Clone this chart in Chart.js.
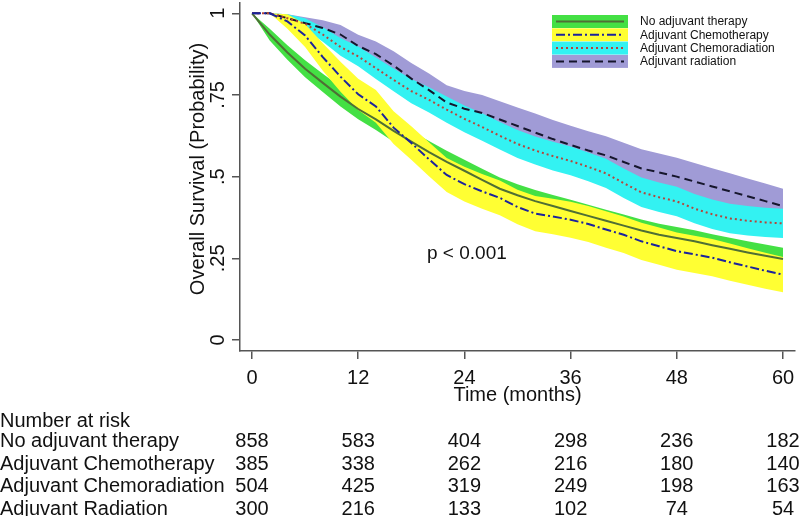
<!DOCTYPE html>
<html>
<head>
<meta charset="utf-8">
<title>Overall Survival</title>
<script src="https://cdn.jsdelivr.net/npm/chart.js@4/dist/chart.umd.min.js"></script>
<style>
    html, body { margin: 0; padding: 0; background: #fff; }
    #survivalChart { display: block; }
</style>
</head>
<body>
<canvas id="survivalChart" width="800" height="516"></canvas>
<script>
// ===============================
// Data
// ===============================

let months = [0, 2, 4, 6, 8, 10, 12, 14, 16, 18, 20, 22, 24, 26, 28, 30,
    32, 34, 36, 38, 40, 42, 44, 46, 48, 50, 52, 54, 56, 58, 60];

let noAdjuvant = [1.0, .935, .88, .83, .787, .745, .707, .675, .64, .607, .575, .545, .518, .49, .463, .443,
    .425, .41, .395, .38, .365, .35, .335, .322, .312, .302, .29, .279, .268, .258, .248];
let noAdjuvantHi = [1.0, .953, .902, .856, .815, .775, .738, .707, .673, .64, .609, .579, .552, .524, .497, .477,
    .459, .444, .429, .414, .399, .384, .369, .356, .346, .336, .324, .313, .302, .292, .282];
let noAdjuvantLo = [1.0, .917, .858, .804, .759, .715, .676, .643, .607, .574, .541, .511, .484, .456, .429, .409,
    .391, .376, .361, .346, .331, .316, .301, .288, .278, .268, .256, .245, .234, .224, .214];

let chemo = [1.0, 1.0, .975, .932, .866, .806, .752, .715, .65, .603, .553, .505, .477, .455, .435, .407,
    .387, .378, .368, .355, .338, .322, .302, .287, .272, .262, .252, .238, .225, .212, .2];
let chemoHi = [1.0, 1.0, .997, .967, .908, .852, .8, .765, .7, .654, .605, .557, .53, .508, .488, .46,
    .441, .432, .423, .41, .394, .378, .359, .344, .329, .319, .309, .295, .281, .267, .254];
let chemoLo = [1.0, 1.0, .953, .897, .824, .76, .704, .665, .6, .552, .501, .453, .424, .402, .382, .354,
    .333, .324, .313, .3, .282, .266, .245, .23, .215, .205, .195, .181, .169, .157, .146];

let chemorad = [1.0, 1.0, .985, .968, .935, .897, .868, .832, .796, .762, .735, .705, .677, .652, .625, .6,
    .58, .563, .548, .53, .51, .48, .452, .437, .424, .402, .385, .372, .365, .36, .357];
let chemoradHi = [1.0, 1.0, .997, .985, .957, .924, .898, .865, .831, .799, .774, .745, .718, .694, .667, .643,
    .623, .607, .592, .574, .555, .525, .497, .482, .469, .447, .43, .417, .41, .405, .402];
let chemoradLo = [1.0, 1.0, .973, .951, .913, .87, .838, .799, .761, .725, .696, .665, .636, .61, .583, .557,
    .537, .519, .504, .486, .465, .435, .407, .392, .379, .357, .34, .327, .32, .315, .312];

let radiation = [1.0, 1.0, .985, .97, .955, .935, .9, .875, .84, .8, .765, .727, .708, .695, .675, .655,
    .635, .615, .597, .58, .565, .545, .525, .513, .5, .485, .47, .455, .44, .425, .41];
let radiationHi = [1.0, 1.0, .997, .988, .979, .964, .934, .914, .884, .848, .816, .78, .762, .75, .731, .712,
    .693, .673, .656, .639, .624, .604, .584, .571, .558, .542, .526, .51, .494, .479, .463];
let radiationLo = [1.0, 1.0, .973, .952, .931, .906, .866, .836, .796, .752, .714, .674, .654, .64, .619, .598,
    .577, .557, .538, .521, .506, .486, .466, .455, .442, .428, .414, .4, .386, .371, .357];

let groupNames = ["No adjuvant therapy", "Adjuvant Chemotherapy", "Adjuvant Chemoradiation", "Adjuvant radiation"];
let riskNames = ["No adjuvant therapy", "Adjuvant Chemotherapy", "Adjuvant Chemoradiation", "Adjuvant Radiation"];

let riskTimes = [0, 12, 24, 36, 48, 60];
let riskNoAdjuvant = [858, 583, 404, 298, 236, 182];
let riskChemo = [385, 338, 262, 216, 180, 140];
let riskChemorad = [504, 425, 319, 249, 198, 163];
let riskRadiation = [300, 216, 133, 102, 74, 54];

let xTicks = [0, 12, 24, 36, 48, 60];
let yTicks = [0, 0.25, 0.5, 0.75, 1];
let yTickLabels = ["0", ".25", ".5", ".75", "1"];

// ===============================
// Styles
// ===============================

let FONT = "'Liberation Sans', Arial, sans-serif";
let TEXT = "#111";
let AXIS = "#555";

let bandColors = ["#44e044", "#ffff33", "#33f2f2", "#a09bd6"];
let lineColors = ["#4f6f35", "#1c239c", "#b5463c", "#16162c"];
let lineDashes = [[], [9, 3, 2, 3], [2, 3], [8, 5]];

function points(values) {
    return months.map((m, i) => ({ x: m, y: values[i] }));
}

function lineSet(values, k) {
    return {
        data: points(values),
        borderColor: lineColors[k],
        borderWidth: 2,
        borderDash: lineDashes[k],
        pointRadius: 0,
        fill: false,
        tension: 0
    };
}

function bandTop(values, k) {
    return {
        data: points(values),
        borderWidth: 0,
        pointRadius: 0,
        backgroundColor: bandColors[k],
        fill: "+1"
    };
}

function bandBottom(values) {
    return {
        data: points(values),
        borderWidth: 0,
        pointRadius: 0,
        fill: false
    };
}

// first dataset ends up on top
let datasets = [
    lineSet(chemo, 1),
    lineSet(noAdjuvant, 0),
    lineSet(chemorad, 2),
    lineSet(radiation, 3),
    bandTop(chemoHi, 1), bandBottom(chemoLo),
    bandTop(noAdjuvantHi, 0), bandBottom(noAdjuvantLo),
    bandTop(chemoradHi, 2), bandBottom(chemoradLo),
    bandTop(radiationHi, 3), bandBottom(radiationLo)
];

// ===============================
// Text, legend and risk table
// ===============================

let textPlugin = {
    id: "kmText",
    afterDraw(chart) {
        let ctx = chart.ctx;
        let xs = chart.scales.x;
        let ys = chart.scales.y;

        ctx.save();
        ctx.fillStyle = TEXT;
        ctx.font = "20px " + FONT;
        ctx.textBaseline = "alphabetic";

        // y tick labels, turned
        ctx.textAlign = "center";
        yTicks.forEach((v, i) => {
            ctx.save();
            ctx.translate(223.5, ys.getPixelForValue(v));
            ctx.rotate(-Math.PI / 2);
            ctx.fillText(yTickLabels[i], 0, 0);
            ctx.restore();
        });

        // y title
        ctx.save();
        ctx.translate(204, 169);
        ctx.rotate(-Math.PI / 2);
        ctx.fillText("Overall Survival (Probability)", 0, 0);
        ctx.restore();

        // x tick labels and title
        xTicks.forEach(v => {
            ctx.fillText(String(v), xs.getPixelForValue(v), 384);
        });
        ctx.fillText("Time (months)", (chart.chartArea.left + chart.chartArea.right) / 2, 401);

        // p value
        ctx.textAlign = "left";
        ctx.font = "19px " + FONT;
        ctx.fillText("p < 0.001", 427, 259);

        // number at risk
        ctx.font = "20px " + FONT;
        ctx.fillText("Number at risk", 0, 427);
        let riskRows = [riskNoAdjuvant, riskChemo, riskChemorad, riskRadiation];
        riskRows.forEach((row, r) => {
            let y = 447 + r * 22.5;
            ctx.textAlign = "left";
            ctx.fillText(riskNames[r], 0, y);
            ctx.textAlign = "center";
            row.forEach((n, i) => {
                ctx.fillText(String(n), xs.getPixelForValue(riskTimes[i]), y);
            });
        });

        // legend
        ctx.font = "12px " + FONT;
        ctx.textAlign = "left";
        ctx.textBaseline = "middle";
        groupNames.forEach((name, k) => {
            let top = 15 + k * 13.3;
            ctx.fillStyle = bandColors[k];
            ctx.fillRect(552, top, 76, 13);
            ctx.strokeStyle = lineColors[k];
            ctx.lineWidth = 2;
            ctx.setLineDash(lineDashes[k]);
            ctx.beginPath();
            ctx.moveTo(556, top + 6.5);
            ctx.lineTo(624, top + 6.5);
            ctx.stroke();
            ctx.setLineDash([]);
            ctx.fillStyle = TEXT;
            ctx.fillText(name, 640, top + 7);
        });

        ctx.restore();
    }
};

// ===============================
// Chart
// ===============================

let survivalCanvas = document.getElementById("survivalChart");

let survivalChart = new Chart(survivalCanvas.getContext("2d"), {

    type: "line",

    data: { datasets: datasets },

    options: {
        responsive: false,
        animation: false,
        devicePixelRatio: 1,
        layout: { padding: { left: 0, top: 3, right: 5, bottom: 0 } },
        plugins: {
            legend: { display: false },
            tooltip: { enabled: false },
            filler: { drawTime: "beforeDatasetsDraw" }
        },
        scales: {
            x: {
                type: "linear",
                min: -1.356,
                max: 61.356,
                afterBuildTicks: s => { s.ticks = xTicks.map(v => ({ value: v })); },
                afterFit: s => { s.height = 165; },
                ticks: { display: false },
                grid: { display: true, drawOnChartArea: false, drawTicks: true, tickLength: 8, color: AXIS, lineWidth: 1.5 },
                border: { display: true, color: AXIS, width: 1.5 }
            },
            y: {
                type: "linear",
                min: -0.0337,
                max: 1.0315,
                afterBuildTicks: s => { s.ticks = yTicks.map(v => ({ value: v })); },
                afterFit: s => { s.width = 240; },
                ticks: { display: false },
                grid: { display: true, drawOnChartArea: false, drawTicks: true, tickLength: 8, color: AXIS, lineWidth: 1.5 },
                border: { display: true, color: AXIS, width: 1.5 }
            }
        }
    },

    plugins: [textPlugin]
});
</script>
</body>
</html>
